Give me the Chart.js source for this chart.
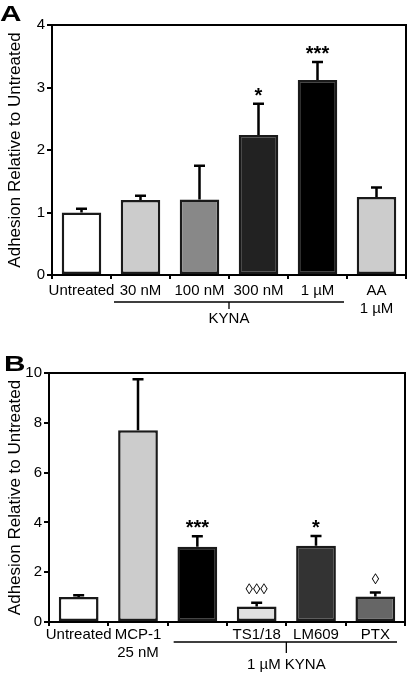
<!DOCTYPE html>
<html>
<head>
<meta charset="utf-8">
<script src="https://cdn.jsdelivr.net/npm/chart.js@4.4.1/dist/chart.umd.min.js"></script>
<style>
  body { margin: 0; background: #fff; }
  canvas { position: absolute; left: 0; }
  #chartA { top: 0; }
  #chartB { top: 330px; }
</style>
</head>
<body>
<canvas id="chartA" width="408" height="330"></canvas>
<canvas id="chartB" width="408" height="344"></canvas>
<script>
// panel A
const labelsA = ['Untreated', '30 nM', '100 nM', '300 nM', '1 µM', ['AA', '1 µM']];
const valuesA = [1.0, 1.2, 1.21, 2.24, 3.12, 1.25];
const errorsA = [0.06, 0.07, 0.54, 0.5, 0.29, 0.15];
const colorsA = ['#ffffff', '#cccccc', '#888888', '#222222', '#000000', '#cccccc'];
const marksA = ['', '', '', '*', '***', ''];
const ticksA = [0, 1, 2, 3, 4];
const groupA = { label: 'KYNA', from: 1, to: 4 };

// panel B
const labelsB = ['Untreated', ['MCP-1', '25 nM'], '', 'TS1/18', 'LM609', 'PTX'];
const valuesB = [1.0, 7.7, 3.02, 0.62, 3.06, 1.02];
const errorsB = [0.07, 2.05, 0.42, 0.15, 0.39, 0.16];
const colorsB = ['#ffffff', '#cccccc', '#000000', '#e0e0e0', '#333333', '#666666'];
const marksB = ['', '', '***', '◊◊◊', '*', '◊'];
const ticksB = [0, 2, 4, 6, 8, 10];
const groupB = { label: '1 µM KYNA', from: 2, to: 5 };

const FONT = '"Liberation Sans", Arial, sans-serif';

// error bars, stars, box, group bracket and panel letter
function extrasPlugin(p) {
  return {
    id: 'extras',
    afterDatasetsDraw(chart) {
      const ctx = chart.ctx;
      const x = chart.scales.x, y = chart.scales.y;
      const area = chart.chartArea;
      const meta = chart.getDatasetMeta(0);
      ctx.save();
      ctx.strokeStyle = '#000';
      ctx.fillStyle = '#000';
      ctx.lineWidth = 2.5;
      meta.data.forEach((bar, i) => {
        const y0 = y.getPixelForValue(p.values[i]);
        const y1 = y.getPixelForValue(p.values[i] + p.errors[i]);
        ctx.beginPath();
        ctx.moveTo(bar.x, y0);
        ctx.lineTo(bar.x, y1);
        ctx.moveTo(bar.x - 5.5, y1);
        ctx.lineTo(bar.x + 5.5, y1);
        ctx.stroke();
        const m = p.marks[i];
        if (m) {
          const star = m.indexOf('*') >= 0;
          ctx.font = star ? 'bold 20px ' + FONT : '15px ' + FONT;
          ctx.textAlign = 'center';
          ctx.textBaseline = 'alphabetic';
          const mt = ctx.measureText(m);
          const cy = y1 - (star ? 12 : 14);
          ctx.fillText(m, bar.x, cy + (mt.actualBoundingBoxAscent - mt.actualBoundingBoxDescent) / 2);
        }
      });
      // box top and right
      ctx.lineWidth = 2;
      ctx.beginPath();
      ctx.moveTo(area.left, area.top);
      ctx.lineTo(area.right, area.top);
      ctx.lineTo(area.right, area.bottom);
      ctx.stroke();

      // group bracket
      const g = p.group;
      const half = (x.getPixelForValue(1) - x.getPixelForValue(0)) / 2;
      const gx1 = x.getPixelForValue(g.from) - half + p.inset[0];
      const gx2 = x.getPixelForValue(g.to) + half - p.inset[1];
      const gm = (x.getPixelForValue(g.from) + x.getPixelForValue(g.to)) / 2;
      const by = area.bottom + p.bracketY;
      ctx.lineWidth = 1.3;
      ctx.beginPath();
      ctx.moveTo(gx1, by);
      ctx.lineTo(gx2, by);
      ctx.moveTo(gm, by);
      ctx.lineTo(gm, by + p.tick);
      ctx.stroke();
      ctx.font = '15px ' + FONT;
      ctx.textAlign = 'center';
      ctx.textBaseline = 'middle';
      ctx.fillText(g.label, gm, by + p.textY);

      // panel letter, drawn wide like the original
      ctx.font = 'bold 22px ' + FONT;
      ctx.textAlign = 'left';
      ctx.textBaseline = 'alphabetic';
      ctx.translate(p.letterX, p.letterY);
      ctx.scale(1.35, 1);
      ctx.fillText(p.letter, 0, 0);
      ctx.restore();
    }
  };
}

function makeChart(id, o) {
  return new Chart(document.getElementById(id), {
    type: 'bar',
    data: {
      labels: o.labels,
      datasets: [{
        data: o.values,
        backgroundColor: o.colors,
        borderColor: '#1a1a1a',
        borderWidth: 2.5,
        borderSkipped: false,
        categoryPercentage: 1,
        barPercentage: 0.67
      }]
    },
    options: {
      responsive: false,
      animation: false,
      devicePixelRatio: 1,
      layout: { padding: o.padding },
      plugins: { legend: { display: false }, tooltip: { enabled: false } },
      scales: {
        x: {
          afterFit: s => { s.height = o.xHeight; },
          grid: { drawOnChartArea: false, tickLength: 4, color: '#000', lineWidth: 2 },
          border: { color: '#000', width: 2 },
          ticks: { color: '#000', font: { family: FONT, size: 15 }, padding: o.xPad, maxRotation: 0, autoSkip: false }
        },
        y: {
          min: 0,
          max: o.ticks[o.ticks.length - 1],
          afterBuildTicks: s => { s.ticks = o.ticks.map(v => ({ value: v })); },
          afterFit: s => { s.width = o.yWidth; },
          grid: { drawOnChartArea: false, tickLength: 5, color: '#000', lineWidth: 2 },
          border: { color: '#000', width: 2 },
          ticks: { color: '#000', font: { family: FONT, size: 15 }, padding: 2 },
          title: {
            display: true,
            text: 'Adhesion Relative to Untreated',
            color: '#000',
            font: { family: FONT, size: 17 },
            padding: { top: 5, bottom: 0 }
          }
        }
      }
    },
    plugins: [extrasPlugin(o)]
  });
}

makeChart('chartA', {
  labels: labelsA, values: valuesA, errors: errorsA, colors: colorsA, marks: marksA,
  ticks: ticksA, group: groupA,
  padding: { top: 25, right: 2, left: 0, bottom: 0 },
  xHeight: 55, yWidth: 52, xPad: 3,
  inset: [3, 3], bracketY: 27, tick: 7, textY: 17,
  letter: 'A', letterX: 0, letterY: 21
});

makeChart('chartB', {
  labels: labelsB, values: valuesB, errors: errorsB, colors: colorsB, marks: marksB,
  ticks: ticksB, group: groupB,
  padding: { top: 43, right: 3, left: 0, bottom: 0 },
  xHeight: 52, yWidth: 49, xPad: 0,
  inset: [6, 8], bracketY: 20, tick: 11, textY: 23,
  letter: 'B', letterX: 4, letterY: 41
});
</script>
</body>
</html>
